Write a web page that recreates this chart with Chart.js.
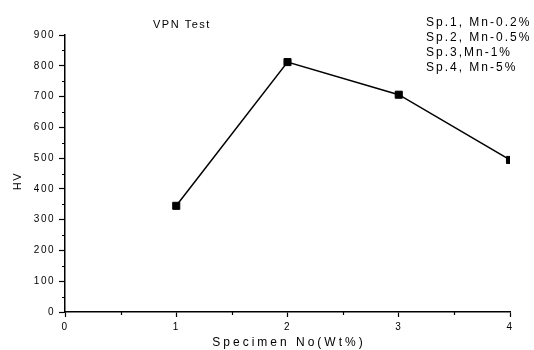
<!DOCTYPE html>
<html>
<head>
<meta charset="utf-8">
<script src="https://cdn.jsdelivr.net/npm/chart.js@4"></script>
<style>
  html, body { margin: 0; padding: 0; background: #fff; }
  #wrap { width: 534px; height: 350px; }
</style>
</head>
<body>
<div id="wrap"><canvas id="myChart"></canvas></div>
<script>
const specimens = [1, 2, 3, 4];
const hardness = [345, 812, 706, 494];
const titleText = "VPN Test";
const notes = ["Sp.1, Mn-0.2%", "Sp.2, Mn-0.5%", "Sp.3,Mn-1%", "Sp.4, Mn-5%"];
const xLabel = "Specimen No(Wt%)";
const yLabel = "HV";

const FONT = "'Liberation Sans', Arial, sans-serif";

// letter spacing for all canvas text (the original has wide tracking)
const spacing = {
  id: "spacing",
  beforeDraw(chart) {
    chart.ctx.letterSpacing = "1.5px";
  },
};

// short minor ticks between the labelled ones
const minorTicks = {
  id: "minorTicks",
  afterDraw(chart) {
    const ctx = chart.ctx;
    const { x, y } = chart.scales;
    ctx.save();
    ctx.strokeStyle = "#000";
    ctx.lineWidth = 1.2;
    ctx.beginPath();
    for (let v = 0.5; v < 4; v += 1) {
      const px = Math.round(x.getPixelForValue(v)) + 0.5;
      ctx.moveTo(px, y.bottom);
      ctx.lineTo(px, y.bottom + 3);
    }
    for (let v = 50; v < 900; v += 100) {
      const py = Math.round(y.getPixelForValue(v)) + 0.5;
      ctx.moveTo(x.left, py);
      ctx.lineTo(x.left - 3, py);
    }
    ctx.stroke();
    ctx.restore();
  },
};

// title, axis titles and the specimen notes
const notesPlugin = {
  id: "notes",
  afterDraw(chart) {
    const ctx = chart.ctx;
    const xs = chart.scales.x;
    ctx.save();
    ctx.fillStyle = "#000";
    ctx.textBaseline = "alphabetic";
    ctx.letterSpacing = "1.5px";
    ctx.font = "11px " + FONT;
    ctx.textAlign = "left";
    ctx.fillText(titleText, 153, 28);

    // y axis title
    ctx.save();
    ctx.translate(21, 181);
    ctx.rotate(-Math.PI / 2);
    ctx.textAlign = "center";
    ctx.letterSpacing = "1.5px";
    ctx.fillText(yLabel, 0, 0);
    ctx.restore();

    ctx.letterSpacing = "3px";
    ctx.font = "12px " + FONT;
    ctx.textAlign = "center";
    ctx.fillText(xLabel, (xs.left + xs.right) / 2 + 1.5, 346);

    ctx.letterSpacing = "2px";
    ctx.font = "12px " + FONT;
    ctx.textAlign = "left";
    notes.forEach((t, i) => {
      ctx.fillText(t, 426, 26 + i * 15);
    });
    ctx.restore();
  },
};

const ctx = document.getElementById("myChart");
new Chart(ctx, {
  type: "scatter",
  data: {
    datasets: [
      {
        data: specimens.map((s, i) => ({ x: s, y: hardness[i] })),
        showLine: true,
        borderColor: "#000",
        borderWidth: 1.5,
        backgroundColor: "#000",
        pointStyle: "rect",
        pointRadius: 5,
        pointBorderWidth: 1,
        pointBorderColor: "#000",
        pointBackgroundColor: "#000",
      },
    ],
  },
  options: {
    responsive: true,
    maintainAspectRatio: false,
    animation: false,
    events: [],
    layout: { padding: { top: 35, right: 24, left: 0, bottom: 0 } },
    plugins: {
      legend: { display: false },
      tooltip: { enabled: false },
    },
    scales: {
      x: {
        type: "linear",
        min: 0,
        max: 4,
        afterFit: (scale) => { scale.height = 38; },
        ticks: {
          stepSize: 1,
          padding: 4,
          color: "#000",
          font: { family: FONT, size: 10 },
          maxRotation: 0,
        },
        grid: {
          drawOnChartArea: false,
          drawTicks: true,
          tickLength: 5,
          tickColor: "#000",
          tickWidth: 1.2,
        },
        border: { display: true, color: "#000", width: 1.5 },
        title: { display: false },
      },
      y: {
        min: 0,
        max: 900,
        afterFit: (scale) => { scale.width = 65; },
        ticks: {
          stepSize: 100,
          padding: 4,
          color: "#000",
          font: { family: FONT, size: 10 },
        },
        grid: {
          drawOnChartArea: false,
          drawTicks: true,
          tickLength: 6,
          tickColor: "#000",
          tickWidth: 1.2,
        },
        border: { display: true, color: "#000", width: 1.5 },
        title: { display: false },
      },
    },
  },
  plugins: [spacing, minorTicks, notesPlugin],
});
</script>
</body>
</html>
